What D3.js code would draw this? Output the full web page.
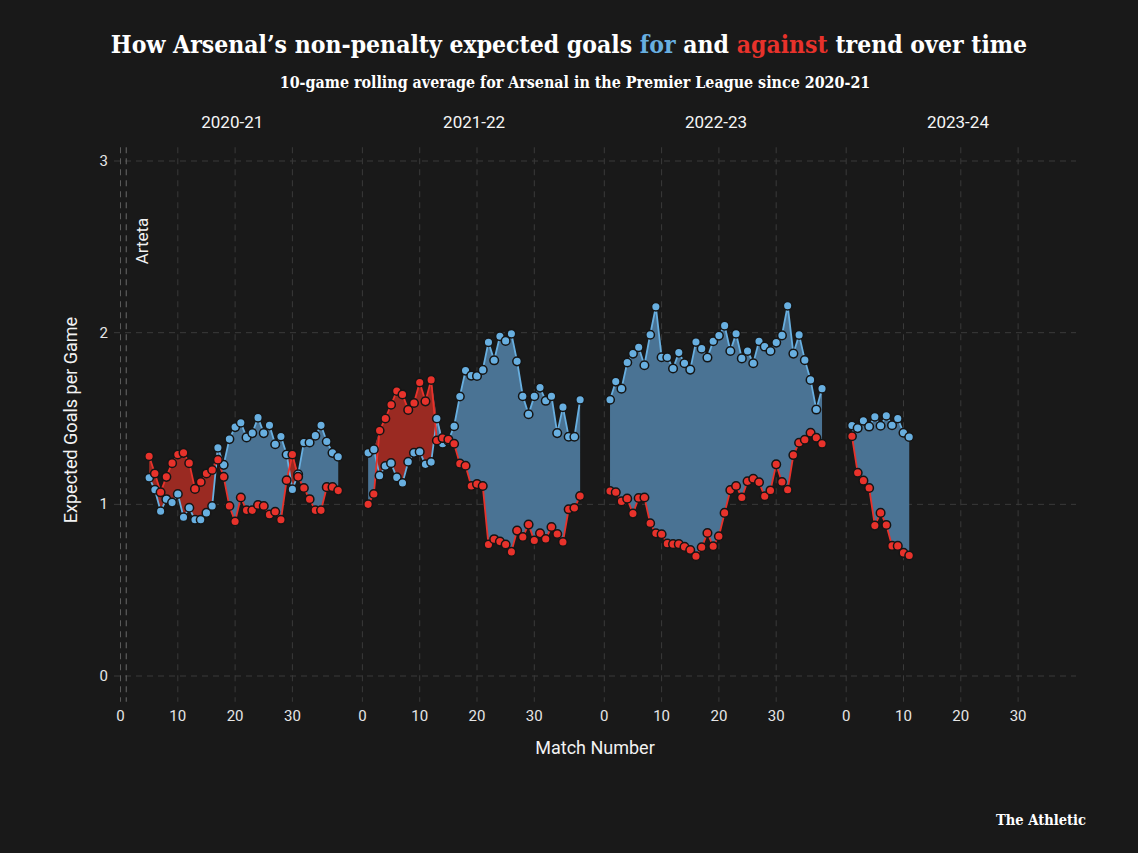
<!DOCTYPE html>
<html>
<head>
<meta charset="utf-8">
<script src="https://cdn.jsdelivr.net/npm/d3@7"></script>
<style>
  html, body { margin: 0; padding: 0; background: #191919; }
  svg { display: block; }
</style>
</head>
<body>
<svg id="chart" width="1138" height="853"></svg>
<script>
// ---- data ----
const seasons = ["2020-21", "2021-22", "2022-23", "2023-24"];
const firstMatch = [5, 1, 1, 1];
const xgFor2021 = [1.155,1.085,0.96,1.03,1.01,1.06,0.925,0.98,0.91,0.91,0.95,0.99,1.33,1.23,1.38,1.45,1.475,1.39,1.415,1.505,1.415,1.46,1.35,1.395,1.29,1.087,1.175,1.36,1.36,1.40,1.46,1.366,1.30,1.277];
const xgAgainst2021 = [1.28,1.18,1.07,1.16,1.24,1.29,1.30,1.24,1.09,1.13,1.18,1.20,1.26,1.16,0.99,0.90,1.04,0.965,0.965,0.996,0.99,0.94,0.957,0.91,1.14,1.29,1.16,1.095,1.03,0.965,0.965,1.10,1.10,1.08];
const xgFor2122 = [1.30,1.32,1.167,1.223,1.24,1.157,1.124,1.248,1.30,1.306,1.233,1.246,1.50,1.353,1.37,1.455,1.628,1.779,1.75,1.748,1.783,1.944,1.839,1.979,1.952,1.994,1.833,1.63,1.525,1.63,1.68,1.603,1.63,1.415,1.566,1.394,1.394,1.609];
const xgAgainst2122 = [1.0,1.06,1.43,1.50,1.58,1.66,1.64,1.55,1.59,1.71,1.60,1.725,1.372,1.386,1.378,1.353,1.237,1.225,1.107,1.118,1.107,0.766,0.797,0.783,0.766,0.723,0.847,0.81,0.882,0.789,0.831,0.798,0.868,0.827,0.781,0.971,0.979,1.048];
const xgFor2223 = [1.609,1.715,1.674,1.826,1.878,1.915,1.81,1.988,2.151,1.857,1.857,1.791,1.884,1.822,1.785,1.946,1.907,1.855,1.95,1.983,2.041,1.893,1.994,1.85,1.893,1.822,1.95,1.919,1.893,1.942,1.984,2.157,1.878,1.987,1.84,1.725,1.552,1.674];
const xgAgainst2223 = [1.077,1.07,1.017,1.033,0.946,1.037,1.04,0.89,0.831,0.826,0.771,0.768,0.768,0.752,0.734,0.698,0.75,0.833,0.756,0.814,0.95,1.083,1.107,1.04,1.134,1.149,1.128,1.047,1.081,1.233,1.13,1.085,1.287,1.359,1.376,1.417,1.388,1.353];
const xgFor2324 = [1.459,1.444,1.487,1.453,1.51,1.458,1.516,1.461,1.5,1.417,1.392];
const xgAgainst2324 = [1.397,1.184,1.138,1.095,0.876,0.95,0.88,0.758,0.758,0.717,0.702];
const xTicks = [0, 10, 20, 30];
const yTicks = [0, 1, 2, 3];
const managerLine = { match: 1, label: "Arteta" };

const forSeries = [xgFor2021, xgFor2122, xgFor2223, xgFor2324];
const againstSeries = [xgAgainst2021, xgAgainst2122, xgAgainst2223, xgAgainst2324];

// ---- styling ----
const BG = "#191919";
const BLUE = "#68afe0", BLUE_FILL = "#4a7394";
const RED = "#e8322b", RED_FILL = "#9a2a22";
const GRID = "#3a3a3a";
const SANS = "Roboto, 'Inter', 'Noto Sans', sans-serif";
const SLAB = "'DejaVu Serif Condensed', 'DejaVu Serif', serif";

const svg = d3.select("#chart");
svg.append("rect").attr("width", 1138).attr("height", 853).attr("fill", BG);

const y = d3.scaleLinear().domain([0, 3]).range([676, 161]);
const panelX0 = 120.5, panelStep = 241.9, pxPerMatch = 5.73;
const xScales = seasons.map((s, i) => d3.scaleLinear()
  .domain([0, 40]).range([panelX0 + i * panelStep, panelX0 + i * panelStep + 40 * pxPerMatch]));

// horizontal grid
const gGrid = svg.append("g");
yTicks.forEach(t => {
  gGrid.append("line").attr("x1", 114).attr("x2", 1076)
    .attr("y1", y(t)).attr("y2", y(t))
    .attr("stroke", GRID).attr("stroke-width", 1).attr("stroke-dasharray", "6,5");
});
// vertical grid
seasons.forEach((s, i) => {
  xTicks.forEach(t => {
    gGrid.append("line").attr("x1", xScales[i](t)).attr("x2", xScales[i](t))
      .attr("y1", y(3.08)).attr("y2", y(-0.15))
      .attr("stroke", (i === 0 && t === 0) ? "#5a5a5a" : GRID).attr("stroke-width", 1)
      .attr("stroke-dasharray", "6,5");
  });
});
// manager line
gGrid.append("line")
  .attr("x1", xScales[0](managerLine.match)).attr("x2", xScales[0](managerLine.match))
  .attr("y1", y(3.08)).attr("y2", y(-0.15))
  .attr("stroke", "#6a6a6a").attr("stroke-width", 1).attr("stroke-dasharray", "6,5");
svg.append("text")
  .attr("transform", `translate(${xScales[0](managerLine.match) + 22},241) rotate(-90)`)
  .attr("text-anchor", "middle").attr("fill", "#f2f2f2")
  .attr("font-family", SANS).attr("font-size", 17).text(managerLine.label);

// y tick labels
yTicks.forEach(t => {
  svg.append("text").attr("x", 108).attr("y", y(t) + 5)
    .attr("text-anchor", "end").attr("fill", "#e6e6e6")
    .attr("font-family", SANS).attr("font-size", 15).text(t);
});
// x tick labels and strip labels
seasons.forEach((s, i) => {
  xTicks.forEach(t => {
    svg.append("text").attr("x", xScales[i](t)).attr("y", 721)
      .attr("text-anchor", "middle").attr("fill", "#e6e6e6")
      .attr("font-family", SANS).attr("font-size", 15).text(t);
  });
  svg.append("text").attr("x", xScales[i](19.5)).attr("y", 128)
    .attr("text-anchor", "middle").attr("fill", "#f5f5f5")
    .attr("font-family", SANS).attr("font-size", 17).text(s);
});

// data marks
seasons.forEach((s, i) => {
  const x = xScales[i];
  const data = forSeries[i].map((v, k) => ({ m: firstMatch[i] + k, f: v, a: againstSeries[i][k] }));
  const g = svg.append("g");
  // blue ribbon: against -> max
  g.append("path").datum(data)
    .attr("d", d3.area().x(d => x(d.m)).y0(d => y(d.a)).y1(d => y(Math.max(d.f, d.a))))
    .attr("fill", BLUE_FILL);
  // red ribbon: for -> max
  g.append("path").datum(data)
    .attr("d", d3.area().x(d => x(d.m)).y0(d => y(d.f)).y1(d => y(Math.max(d.f, d.a))))
    .attr("fill", RED_FILL);
  g.append("path").datum(data)
    .attr("d", d3.line().x(d => x(d.m)).y(d => y(d.f)))
    .attr("fill", "none").attr("stroke", BLUE).attr("stroke-width", 1.8);
  g.append("path").datum(data)
    .attr("d", d3.line().x(d => x(d.m)).y(d => y(d.a)))
    .attr("fill", "none").attr("stroke", RED).attr("stroke-width", 1.8);
  g.selectAll("circle.f").data(data).join("circle").attr("class", "f")
    .attr("cx", d => x(d.m)).attr("cy", d => y(d.f)).attr("r", 4.3)
    .attr("fill", BLUE).attr("stroke", "#151515").attr("stroke-width", 1.5);
  g.selectAll("circle.a").data(data).join("circle").attr("class", "a")
    .attr("cx", d => x(d.m)).attr("cy", d => y(d.a)).attr("r", 4.3)
    .attr("fill", RED).attr("stroke", "#151515").attr("stroke-width", 1.5);
});

// axis titles
svg.append("text").attr("x", 595).attr("y", 754).attr("text-anchor", "middle")
  .attr("fill", "#f2f2f2").attr("font-family", SANS).attr("font-size", 18).text("Match Number");
svg.append("text").attr("transform", "translate(77,420) rotate(-90)").attr("text-anchor", "middle")
  .attr("fill", "#f2f2f2").attr("font-family", SANS).attr("font-size", 18).text("Expected Goals per Game");

// title
function fitText(sel, target) {
  const len = sel.node().getComputedTextLength();
  const fs = parseFloat(sel.attr("font-size"));
  sel.attr("font-size", fs * target / len);
}
const title = svg.append("text").attr("x", 569).attr("y", 53).attr("text-anchor", "middle")
  .attr("fill", "#ffffff").attr("font-family", SLAB).attr("font-weight", "bold").attr("font-size", 24);
title.append("tspan").text("How Arsenal’s non-penalty expected goals ");
title.append("tspan").attr("fill", BLUE).text("for");
title.append("tspan").text(" and ");
title.append("tspan").attr("fill", RED).text("against");
title.append("tspan").text(" trend over time");
fitText(title, 917);

const sub = svg.append("text").attr("x", 575).attr("y", 88).attr("text-anchor", "middle")
  .attr("fill", "#ffffff").attr("font-family", SLAB).attr("font-weight", "bold").attr("font-size", 15)
  .text("10-game rolling average for Arsenal in the Premier League since 2020-21");
fitText(sub, 591);

const logo = svg.append("text").attr("x", 1086).attr("y", 825).attr("text-anchor", "end")
  .attr("fill", "#ffffff").attr("font-family", SLAB).attr("font-weight", "bold").attr("font-size", 14)
  .text("The Athletic");
fitText(logo, 90);
</script>
</body>
</html>
